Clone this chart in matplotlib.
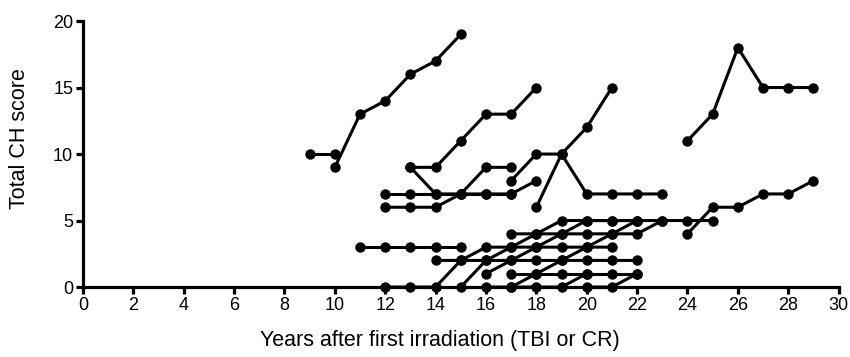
import matplotlib
matplotlib.use("Agg")
import matplotlib.pyplot as plt

plt.rcParams['font.family'] = ['Liberation Sans', 'DejaVu Sans']

# Follow-up years and total CH score for each patient
years = [
    [9, 10],
    [10, 11, 12, 13, 14, 15],
    [13, 14, 15, 16, 17, 18],
    [12, 13, 14, 15, 16, 17],
    [13, 14, 15, 16, 17, 18],
    [12, 13, 14, 15, 16, 17],
    [17, 18, 19, 20, 21, 22, 23],
    [18, 19, 20, 21],
    [24, 25, 26, 27, 28, 29],
    [24, 25, 26, 27, 28, 29],
    [11, 12, 13, 14, 15],
    [12, 13, 14, 15, 16, 17, 18, 19, 20, 21, 22],
    [14, 15, 16, 17, 18, 19, 20, 21],
    [15, 16, 17, 18, 19, 20, 21, 22, 23],
    [16, 17, 18, 19, 20, 21, 22],
    [17, 18, 19, 20, 21, 22, 23, 24, 25],
    [17, 18, 19, 20, 21, 22],
    [16, 17, 18, 19, 20],
    [20, 21, 22],
    [17, 18, 19, 20, 21, 22],
]
scores = [
    [10, 10],
    [9, 13, 14, 16, 17, 19],
    [9, 9, 11, 13, 13, 15],
    [7, 7, 7, 7, 7, 7],
    [9, 7, 7, 7, 7, 8],
    [6, 6, 6, 7, 9, 9],
    [8, 10, 10, 7, 7, 7, 7],
    [6, 10, 12, 15],
    [11, 13, 18, 15, 15, 15],
    [4, 6, 6, 7, 7, 8],
    [3, 3, 3, 3, 3],
    [0, 0, 0, 2, 2, 2, 2, 2, 2, 2, 2],
    [2, 2, 3, 3, 3, 3, 3, 3],
    [0, 2, 3, 4, 5, 5, 5, 5, 5],
    [1, 2, 3, 4, 5, 5, 5],
    [4, 4, 4, 4, 4, 4, 5, 5, 5],
    [1, 1, 1, 1, 1, 1],
    [0, 0, 0, 0, 1],
    [0, 0, 1],
    [0, 1, 2, 3, 4, 5],
]

x_ticks = list(range(0, 31, 2))
y_ticks = [0, 5, 10, 15, 20]

fig = plt.figure(figsize=(8.5, 3.57), dpi=100)
ax = fig.add_axes([0.0976, 0.196, 0.889, 0.745])

for xs, ys in zip(years, scores):
    ax.plot(xs, ys, color='black', lw=2.2, marker='o', ms=7.5,
            markeredgewidth=0, clip_on=False, zorder=3)

ax.set_xlim(0, 30)
ax.set_ylim(0, 20)
ax.set_xticks(x_ticks)
ax.set_yticks(y_ticks)

for side in ('top', 'right'):
    ax.spines[side].set_visible(False)
for side in ('left', 'bottom'):
    ax.spines[side].set_linewidth(2.3)
    ax.spines[side].set_color('black')

ax.tick_params(axis='both', direction='out', length=5, width=2.3,
               labelsize=13, colors='black', pad=2)

ax.set_xlabel('Years after first irradiation (TBI or CR)', fontsize=15.5)
ax.set_ylabel('Total CH score', fontsize=15.5)
ax.xaxis.set_label_coords(0.472, -0.16)
ax.yaxis.set_label_coords(-0.07, 0.56)

fig.savefig('out.png', dpi=100, facecolor='white')
